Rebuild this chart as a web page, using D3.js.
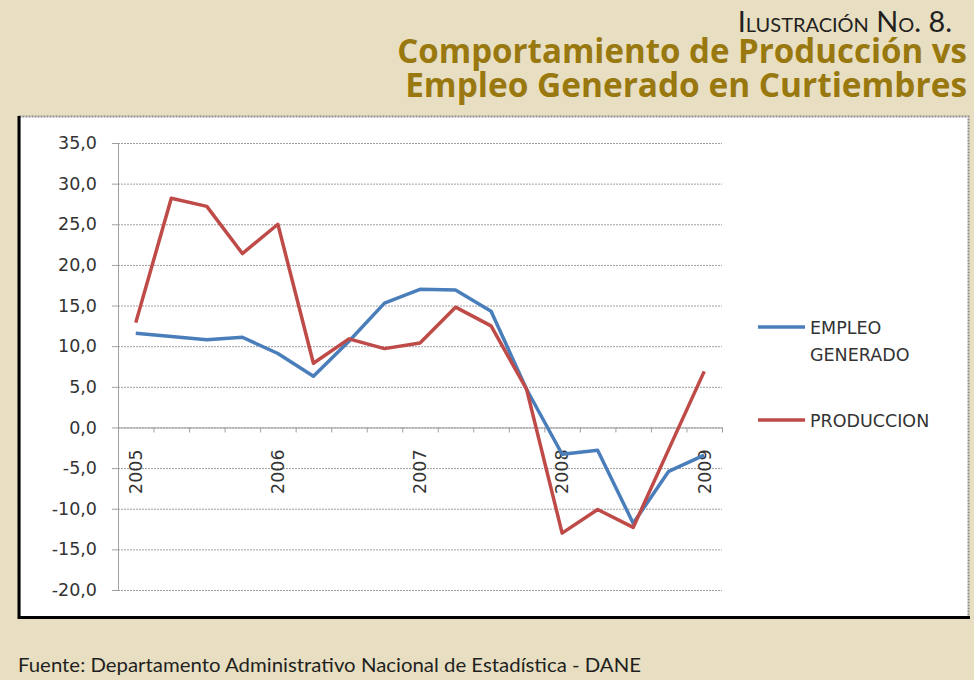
<!DOCTYPE html>
<html>
<head>
<meta charset="utf-8">
<script src="https://cdn.jsdelivr.net/npm/d3@7"></script>
<style>
  body { margin: 0; background: #e8dfc3; }
  svg { display: block; }
  .grid line { stroke: #a0a0a0; stroke-width: 1; stroke-dasharray: 2,1; }
  .grid .domain { display: none; }
  .yAxis text, .xAxis text { font-family: "DejaVu Sans", sans-serif; font-size: 17.5px; fill: #333333; }
  .yAxis line, .xAxis line { stroke: #a0a0a0; }
  .yAxis .domain, .xAxis .domain { stroke: #a0a0a0; }
  .serie { fill: none; stroke-width: 3.5; stroke-linejoin: round; }
  .legend text { font-family: "DejaVu Sans", sans-serif; font-size: 17.5px; fill: #333333; }
</style>
</head>
<body>
<div id="chart"></div>
<script>
// Datos (trimestres 2005-I a 2009-I)
const periodos = ["2005-I","2005-II","2005-III","2005-IV",
                  "2006-I","2006-II","2006-III","2006-IV",
                  "2007-I","2007-II","2007-III","2007-IV",
                  "2008-I","2008-II","2008-III","2008-IV",
                  "2009-I"];
const empleo = [11.6, 11.2, 10.8, 11.1, 9.1, 6.3, 10.6, 15.3, 17.0, 16.9, 14.3, 4.7, -3.3, -2.8, -11.8, -5.4, -3.4];
const produccion = [12.9, 28.2, 27.2, 21.4, 25.0, 7.9, 10.9, 9.7, 10.4, 14.8, 12.5, 4.7, -13.0, -10.1, -12.3, -2.7, 6.9];
const etiquetasAnio = {"2005-I": "2005", "2006-I": "2006", "2007-I": "2007", "2008-I": "2008", "2009-I": "2009"};
const yTicks = [-20, -15, -10, -5, 0, 5, 10, 15, 20, 25, 30, 35];
const series = [
  { name: ["EMPLEO", "GENERADO"], values: empleo, color: "#4a7ebb" },
  { name: ["PRODUCCION"], values: produccion, color: "#be4b48" }
];

const W = 974, H = 680;
const plot = { left: 118, right: 722, top: 143, bottom: 590 };

const svg = d3.select("#chart").append("svg")
  .attr("width", W).attr("height", H);

function fitWidth(sel, target, base) {
  const w = sel.node().getComputedTextLength();
  sel.style("font-size", (base * target / w) + "px");
}

// Titulo
const t1 = svg.append("text")
  .attr("x", 952).attr("y", 32)
  .attr("text-anchor", "end")
  .style("font-family", "Lato, sans-serif")
  .style("font-variant", "small-caps")
  .style("font-size", "26px")
  .style("fill", "#231f20")
  .text("Ilustración No. 8.");
fitWidth(t1, 214, 26);

const titulo1 = svg.append("text")
  .attr("x", 967).attr("y", 63)
  .attr("text-anchor", "end")
  .style("font-family", "'Open Sans', sans-serif")
  .style("font-weight", "bold")
  .style("font-size", "30px")
  .style("fill", "#98780f")
  .text("Comportamiento de Producción vs");
fitWidth(titulo1, 570, 30);

const titulo2 = svg.append("text")
  .attr("x", 967).attr("y", 97)
  .attr("text-anchor", "end")
  .style("font-family", "'Open Sans', sans-serif")
  .style("font-weight", "bold")
  .style("font-size", "30px")
  .style("fill", "#98780f")
  .text("Empleo Generado en Curtiembres");
fitWidth(titulo2, 562, 30);

// Caja del grafico
svg.append("rect")
  .attr("x", 19.5).attr("y", 116.5)
  .attr("width", 949).attr("height", 501)
  .attr("fill", "#ffffff")
  .attr("stroke", "#8c8c8c")
  .attr("stroke-width", 2)
  .attr("stroke-dasharray", "2,1");
svg.append("line").attr("x1", 19).attr("x2", 19).attr("y1", 116).attr("y2", 619)
  .attr("stroke", "#000").attr("stroke-width", 3);
svg.append("line").attr("x1", 18).attr("x2", 970).attr("y1", 617.5).attr("y2", 617.5)
  .attr("stroke", "#000").attr("stroke-width", 3);

// Escalas
const x = d3.scaleBand().domain(periodos).range([plot.left, plot.right]);
const xIdx = d3.scaleLinear().domain([0, periodos.length]).range([plot.left, plot.right]);
const y = d3.scaleLinear().domain([-20, 35]).range([plot.bottom, plot.top]);

const locale = d3.formatLocale({ decimal: ",", thousands: ".", grouping: [3], currency: ["$", ""], minus: "-" });
const fmt = locale.format(".1f");

// Lineas de cuadricula
svg.append("g")
  .attr("class", "grid")
  .attr("transform", "translate(" + plot.left + ",0)")
  .call(d3.axisLeft(y).tickValues(yTicks).tickSize(-(plot.right - plot.left)).tickFormat(""));

// Eje Y
svg.append("g")
  .attr("class", "yAxis")
  .attr("transform", "translate(" + plot.left + ",0)")
  .call(d3.axisLeft(y).tickValues(yTicks).tickSize(6).tickPadding(15).tickSizeOuter(0).tickFormat(fmt));

// Eje X en cero
svg.append("g")
  .attr("class", "xAxis")
  .attr("transform", "translate(0," + y(0) + ")")
  .call(d3.axisBottom(xIdx).tickValues(d3.range(0, periodos.length + 1)).tickSize(5).tickSizeOuter(0).tickFormat(""));

const xLab = svg.append("g")
  .attr("class", "xAxis")
  .attr("transform", "translate(0," + y(0) + ")")
  .call(d3.axisBottom(x).tickValues(Object.keys(etiquetasAnio)).tickSize(0).tickFormat(d => etiquetasAnio[d]));
xLab.select(".domain").remove();
xLab.selectAll("text")
  .attr("text-anchor", "end")
  .attr("transform", "translate(0,22) rotate(-90)")
  .attr("x", 0).attr("y", 0)
  .attr("dy", "0.36em");

// Lineas
const line = d3.line()
  .x((d, i) => x(periodos[i]) + x.bandwidth() / 2)
  .y(d => y(d));

svg.selectAll(".serie")
  .data(series)
  .enter().append("path")
  .attr("class", "serie")
  .attr("d", d => line(d.values))
  .style("stroke", d => d.color);

// Leyenda
const legY = [327, 420];
const legend = svg.selectAll(".legend")
  .data(series)
  .enter().append("g")
  .attr("class", "legend")
  .attr("transform", (d, i) => "translate(758," + legY[i] + ")");
legend.append("line")
  .attr("x1", 0).attr("x2", 47)
  .attr("stroke", d => d.color)
  .attr("stroke-width", 3.5);
legend.append("text")
  .attr("x", 52).attr("y", 7)
  .selectAll("tspan")
  .data(d => d.name)
  .enter().append("tspan")
  .attr("x", 52)
  .attr("dy", (d, i) => i === 0 ? 0 : 27)
  .text(d => d);

// Fuente
const fuente = svg.append("text")
  .attr("x", 18).attr("y", 672)
  .style("font-family", "Lato, sans-serif")
  .style("font-size", "19px")
  .style("fill", "#231f20")
  .text("Fuente: Departamento Administrativo Nacional de Estadística - DANE");
fuente.attr("textLength", 623).attr("lengthAdjust", "spacingAndGlyphs");
</script>
</body>
</html>
